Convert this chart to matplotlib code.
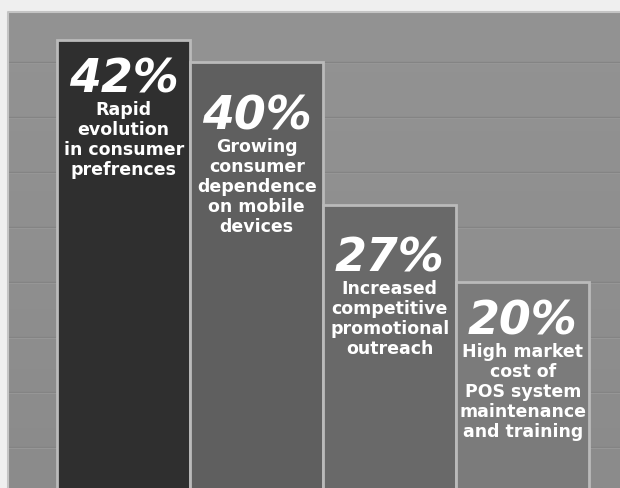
import numpy as np
import matplotlib
matplotlib.use("Agg")
import matplotlib.pyplot as plt

# ── Data ──────────────────────────────────────────────────────────────────────
values = [42, 40, 27, 20]
pct_labels = ["42%", "40%", "27%", "20%"]
reasons = [
    "Rapid\nevolution\nin consumer\nprefrences",
    "Growing\nconsumer\ndependence\non mobile\ndevices",
    "Increased\ncompetitive\npromotional\noutreach",
    "High market\ncost of\nPOS system\nmaintenance\nand training",
]
grid_levels = [5, 10, 15, 20, 25, 30, 35, 40]

# ── Style ─────────────────────────────────────────────────────────────────────
BAR_COLORS = ["#2f2f2f", "#5f5f5f", "#696969", "#7b7b7b"]
EDGE = "#bababa"
PANEL = "#8d8d8d"
PCT_OFFSET = [16, 31, 30, 16]   # px from bar top down to the big number

fig = plt.figure(figsize=(6.2, 4.89), dpi=100)
fig.patch.set_facecolor("#efefef")
ax = fig.add_axes([8 / 620, 0, 612 / 620, 476 / 489])
ax.set_facecolor(PANEL)

# soft vertical shading of the panel
shade = np.linspace(0.0, 1.0, 256).reshape(-1, 1)
ax.imshow(shade, extent=[-0.87, 3.73, 1.27, 44.55], aspect="auto",
          cmap=matplotlib.colors.LinearSegmentedColormap.from_list(
              "p", ["#939393", "#8b8b8b"]), zorder=0)

for lvl in grid_levels:
    ax.axhline(lvl, color="#838383", lw=1.0, zorder=1)
    ax.axhline(lvl - 0.09, color="#969696", lw=0.8, zorder=1)

x = np.arange(len(values))
ax.bar(x, values, width=1.0, color=BAR_COLORS, edgecolor=EDGE,
       linewidth=2.0, zorder=2)

for i, (v, p, r) in enumerate(zip(values, pct_labels, reasons)):
    ax.annotate(p, xy=(i, v), xytext=(0, -PCT_OFFSET[i]),
                textcoords="offset pixels", ha="center", va="top",
                color="white", fontsize=33, fontweight="heavy",
                fontstyle="oblique", zorder=3)
    ax.annotate(r, xy=(i, v), xytext=(0, -PCT_OFFSET[i] - 44),
                textcoords="offset pixels", ha="center", va="top",
                color="white", fontsize=12.5, fontweight="bold",
                linespacing=1.15, zorder=3)

ax.set_xlim(-0.87, 3.73)
ax.set_ylim(1.27, 44.55)
ax.set_xticks([])
ax.set_yticks([])
for sp in ax.spines.values():
    sp.set_visible(False)

# light rim along top and left of the panel
ax.plot([0, 0, 1], [0, 1, 1], transform=ax.transAxes, color="#c4c4c4",
        lw=1.5, clip_on=False, zorder=4)

fig.savefig("out.png", dpi=100, facecolor=fig.get_facecolor())
